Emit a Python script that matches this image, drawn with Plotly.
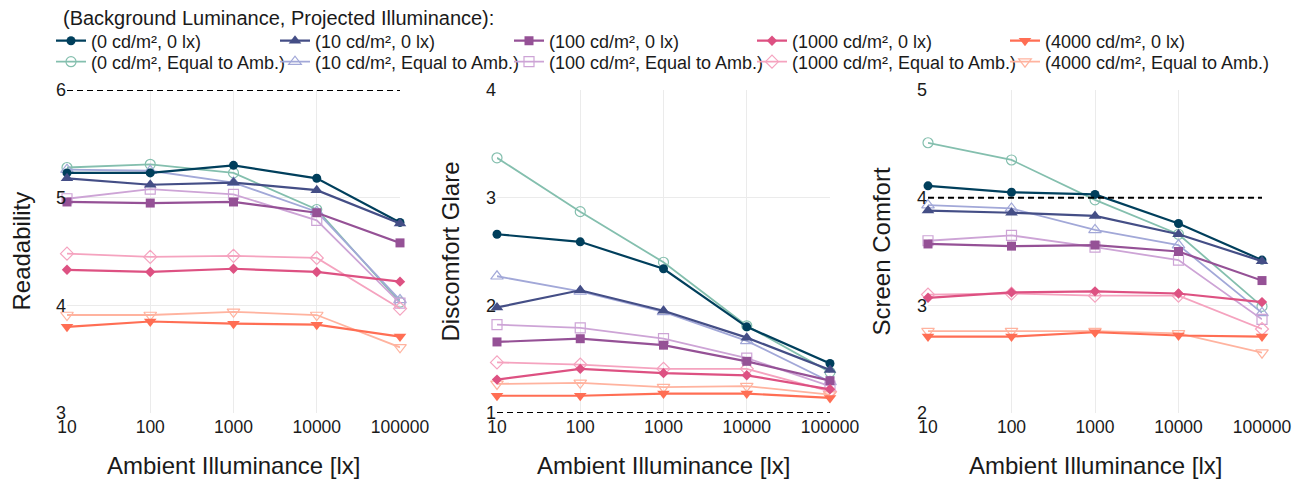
import plotly.graph_objects as go

# ---------------- data ----------------
ambient = [10, 100, 1000, 10000, 100000]
tick_text = ["10", "100", "1000", "10000", "100000"]

lum_levels = ["0", "10", "100", "1000", "4000"]
names_0lx = [f"({l} cd/m², 0 lx)" for l in lum_levels]
names_eq = [f"({l} cd/m², Equal to Amb.)" for l in lum_levels]

# Readability
read_0_0lx = [5.23, 5.23, 5.30, 5.18, 4.77]
read_0_eq = [5.28, 5.31, 5.23, 4.89, 4.03]
read_10_0lx = [5.18, 5.12, 5.14, 5.07, 4.76]
read_10_eq = [5.26, 5.25, 5.14, 4.87, 4.05]
read_100_0lx = [4.96, 4.95, 4.96, 4.86, 4.58]
read_100_eq = [4.99, 5.08, 5.03, 4.79, 4.02]
read_1000_0lx = [4.33, 4.31, 4.34, 4.31, 4.22]
read_1000_eq = [4.48, 4.45, 4.46, 4.44, 3.97]
read_4000_0lx = [3.80, 3.85, 3.83, 3.82, 3.71]
read_4000_eq = [3.91, 3.91, 3.94, 3.91, 3.61]

# Discomfort Glare
glare_0_0lx = [2.66, 2.59, 2.34, 1.80, 1.46]
glare_0_eq = [3.37, 2.87, 2.40, 1.81, 1.38]
glare_10_0lx = [1.98, 2.14, 1.95, 1.70, 1.40]
glare_10_eq = [2.27, 2.13, 1.94, 1.67, 1.29]
glare_100_0lx = [1.66, 1.69, 1.63, 1.48, 1.30]
glare_100_eq = [1.82, 1.79, 1.69, 1.51, 1.25]
glare_1000_0lx = [1.31, 1.41, 1.37, 1.35, 1.22]
glare_1000_eq = [1.47, 1.45, 1.41, 1.41, 1.20]
glare_4000_0lx = [1.16, 1.16, 1.18, 1.18, 1.14]
glare_4000_eq = [1.27, 1.28, 1.24, 1.25, 1.17]

# Screen Comfort
comf_0_0lx = [4.11, 4.05, 4.03, 3.76, 3.42]
comf_0_eq = [4.51, 4.35, 3.98, 3.66, 2.99]
comf_10_0lx = [3.88, 3.86, 3.83, 3.66, 3.41]
comf_10_eq = [3.93, 3.90, 3.70, 3.56, 2.93]
comf_100_0lx = [3.57, 3.55, 3.56, 3.50, 3.23]
comf_100_eq = [3.60, 3.65, 3.54, 3.42, 2.87]
comf_1000_0lx = [3.07, 3.12, 3.13, 3.11, 3.03]
comf_1000_eq = [3.10, 3.11, 3.09, 3.09, 2.78]
comf_4000_0lx = [2.71, 2.71, 2.75, 2.72, 2.71]
comf_4000_eq = [2.76, 2.76, 2.76, 2.74, 2.56]

panel_titles = ["Readability", "Discomfort Glare", "Screen Comfort"]
y_ranges = [[3, 6], [1, 4], [2, 5]]
ref_lines = [6, 1, 4]
x_title = "Ambient Illuminance [lx]"
legend_title = "(Background Luminance, Projected Illuminance):"

panels = [
    ([read_0_0lx, read_10_0lx, read_100_0lx, read_1000_0lx, read_4000_0lx],
     [read_0_eq, read_10_eq, read_100_eq, read_1000_eq, read_4000_eq]),
    ([glare_0_0lx, glare_10_0lx, glare_100_0lx, glare_1000_0lx, glare_4000_0lx],
     [glare_0_eq, glare_10_eq, glare_100_eq, glare_1000_eq, glare_4000_eq]),
    ([comf_0_0lx, comf_10_0lx, comf_100_0lx, comf_1000_0lx, comf_4000_0lx],
     [comf_0_eq, comf_10_eq, comf_100_eq, comf_1000_eq, comf_4000_eq]),
]

# ---------------- style ----------------
W, H = 1303, 480
OFF = 8  # page body margin of the html page


def xp(px):
    return (px - OFF) / W


def yp(py):
    return 1 - (py - OFF) / H


col_filled = ["#003f5c", "#444e86", "#955196", "#dd5182", "#ff6e54"]
col_equal = ["#84bfae", "#a2a8d8", "#cda4d6", "#f5a3bf", "#ffb39f"]
sym_filled = ["circle", "triangle-up", "square", "diamond", "triangle-down"]
sym_equal = ["circle-open", "triangle-up-open", "square-open", "diamond-open", "triangle-down-open"]
size_filled = [9, 11, 9, 8, 11]
size_equal = [10, 11, 10, 10, 11]

x_dom = [(67, 400), (497, 830), (928, 1262)]
y_dom = [yp(413), yp(90)]
legend_marker_x = [69, 293, 527, 770, 1023]
legend_row_y = [41, 62]
FONT = "Liberation Sans, Arial, sans-serif"
TXT = "#1a1a1a"

fig = go.Figure()


def legend_key(row, col):
    k = row * 5 + col + 1
    return "legend" if k == 1 else f"legend{k}"


for p, (filled, equal) in enumerate(panels):
    ax = "" if p == 0 else str(p + 1)
    for i in range(5):
        fig.add_trace(go.Scatter(
            x=ambient, y=equal[i], name=names_eq[i], mode="lines+markers",
            line=dict(color=col_equal[i], width=1.8),
            marker=dict(symbol=sym_equal[i], size=size_equal[i], color=col_equal[i],
                        line=dict(width=1.2, color=col_equal[i])),
            xaxis="x" + ax, yaxis="y" + ax, cliponaxis=False,
            showlegend=(p == 0), legend=legend_key(1, i),
        ))
    for i in range(5):
        fig.add_trace(go.Scatter(
            x=ambient, y=filled[i], name=names_0lx[i], mode="lines+markers",
            line=dict(color=col_filled[i], width=2.2),
            marker=dict(symbol=sym_filled[i], size=size_filled[i], color=col_filled[i]),
            xaxis="x" + ax, yaxis="y" + ax, cliponaxis=False,
            showlegend=(p == 0), legend=legend_key(0, i),
        ))

layout = dict(
    width=W, height=H,
    margin=dict(l=0, r=0, t=0, b=0, autoexpand=False),
    paper_bgcolor="white", plot_bgcolor="white",
    font=dict(family=FONT, color=TXT),
    shapes=[], annotations=[],
)

for p in range(3):
    ax = "" if p == 0 else str(p + 1)
    layout["xaxis" + ax] = dict(
        domain=[xp(x_dom[p][0]), xp(x_dom[p][1])], anchor="y" + ax,
        type="log", range=[1, 5], tickvals=ambient, ticktext=tick_text,
        showgrid=True, gridcolor="#ebebeb", gridwidth=1, zeroline=False,
        showline=False, ticks="", tickfont=dict(size=17.5, color=TXT),
        automargin=False, ticklabelstandoff=1,
    )
    layout["yaxis" + ax] = dict(
        domain=y_dom, anchor="x" + ax, range=y_ranges[p], dtick=1,
        showgrid=True, gridcolor="#ebebeb", gridwidth=1, zeroline=False,
        showline=False, ticks="", tickfont=dict(size=18, color=TXT),
        automargin=False,
    )
    layout["shapes"].append(dict(
        type="line", xref=f"x{ax} domain", yref="y" + ax,
        x0=0, x1=1, y0=ref_lines[p], y1=ref_lines[p],
        line=dict(color="black", width=2, dash="6px,4px"), layer="above",
    ))
    cx = xp((x_dom[p][0] + x_dom[p][1]) / 2)
    layout["annotations"].append(dict(
        text=x_title, xref="paper", yref="paper", x=cx, y=yp(465),
        xanchor="center", yanchor="middle", showarrow=False,
        font=dict(size=24, color=TXT),
    ))
    ty_x = [21, 450, 881][p]
    layout["annotations"].append(dict(
        text=panel_titles[p], xref="paper", yref="paper", x=xp(ty_x),
        y=(y_dom[0] + y_dom[1]) / 2, textangle=-90,
        xanchor="center", yanchor="middle", showarrow=False,
        font=dict(size=24, color=TXT),
    ))

layout["annotations"].append(dict(
    text=legend_title, xref="paper", yref="paper", x=xp(61), y=yp(18),
    xanchor="left", yanchor="middle", showarrow=False,
    font=dict(size=20, color=TXT),
))

for row in range(2):
    for col in range(5):
        layout[legend_key(row, col)] = dict(
            orientation="v", x=xp(legend_marker_x[col] - 18), xanchor="left",
            y=yp(legend_row_y[row]), yanchor="middle", bgcolor="rgba(0,0,0,0)",
            font=dict(size=18, color=TXT), tracegroupgap=0, borderwidth=0,
        )

fig.update_layout(**layout)
fig.write_html("out.html")
